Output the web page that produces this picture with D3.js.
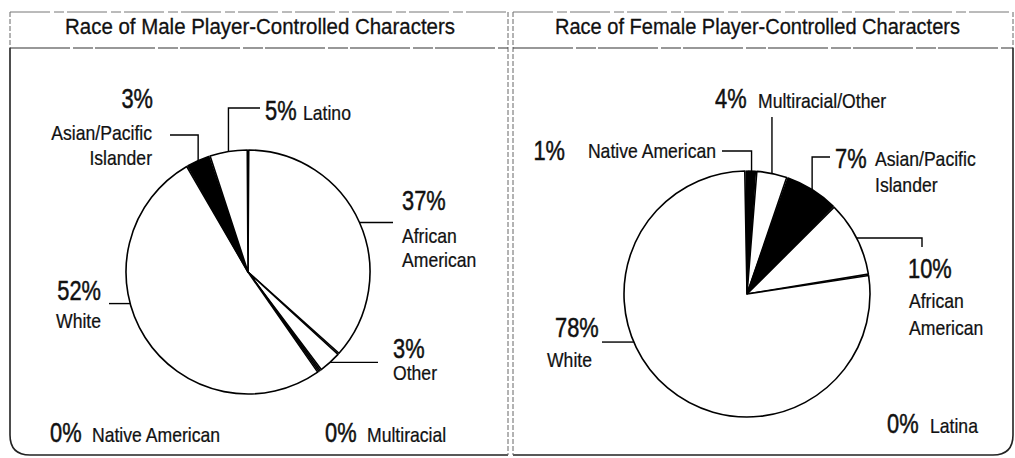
<!DOCTYPE html>
<html lang="en">
<head>
    <meta charset="utf-8">
    <script src="https://d3js.org/d3.v7.min.js"></script>
    <style type="text/css">
        body {
            margin: 0;
            background: #fff;
            overflow: hidden;
        }
        text {
            font-family: "Liberation Sans", Arial, sans-serif;
            fill: #111;
        }
        .title { font-size: 22px; stroke: #111; stroke-width: 0.3; }
        .pct { font-size: 28px; stroke: #111; stroke-width: 0.5; }
        .lab { font-size: 20px; stroke: #111; stroke-width: 0.25; }
    </style>
</head>
<body>
<svg id="chart"></svg>
<script type="text/javascript">
    var width = 1015;
    var height = 458;

    // male player-controlled characters, clockwise from 12 o'clock
    var maleRaces = ["African American", "Other", "Native American", "Multiracial", "White", "Asian/Pacific Islander", "Latino"];
    var malePct = [37, 3, 0, 0, 52, 3, 5];

    // female player-controlled characters, clockwise from 12 o'clock
    var femaleRaces = ["Native American", "Multiracial/Other", "Asian/Pacific Islander", "African American", "White", "Latina"];
    var femalePct = [1, 4, 7, 10, 78, 0];

    var darkRaces = ["Asian/Pacific Islander", "Native American"];

    var svg = d3.select("#chart")
        .attr("width", width)
        .attr("height", height);

    // condensed look: squeeze glyphs horizontally
    function addText(cls, x, y, str, anchor, sx) {
        return svg.append("text").attr("class", cls)
            .attr("transform", "translate(" + x + "," + y + ") scale(" + sx + ",1)")
            .attr("text-anchor", anchor || "start")
            .text(str);
    }

    // panel frames
    var frame = svg.append("g").attr("fill", "none");
    frame.append("path")
        .attr("d", "M10,48 V435 Q10,455 30,455 H508")
        .attr("stroke", "#222").attr("stroke-width", 1.6);
    frame.append("path")
        .attr("d", "M1013,48 V435 Q1013,455 993,455 H513")
        .attr("stroke", "#222").attr("stroke-width", 1.6);
    frame.append("path")
        .attr("d", "M10,12 V48 M508,12 V455 M513,12 V455 M1013,12 V48")
        .attr("stroke", "#666").attr("stroke-width", 1).attr("stroke-dasharray", "5,2");
    frame.append("path")
        .attr("d", "M10,12 H508 M513,12 H1013")
        .attr("stroke", "#777").attr("stroke-width", 1).attr("stroke-dasharray", "40,4,10,3");
    frame.append("path")
        .attr("d", "M10,48 H508 M513,48 H1013")
        .attr("stroke", "#333").attr("stroke-width", 1.2).attr("stroke-dasharray", "60,3,20,2");

    svg.append("text").attr("class", "title")
        .attr("x", 65).attr("y", 34)
        .attr("textLength", 390).attr("lengthAdjust", "spacingAndGlyphs")
        .text("Race of Male Player-Controlled Characters");
    svg.append("text").attr("class", "title")
        .attr("x", 555).attr("y", 34)
        .attr("textLength", 405).attr("lengthAdjust", "spacingAndGlyphs")
        .text("Race of Female Player-Controlled Characters");

    var pie = d3.pie().sort(null).value(function(d) { return d.value; }).padAngle(0.012);

    function drawPie(races, pcts, cx, cy, r, labels) {
        var data = races.map(function(name, i) { return { name: name, value: pcts[i] }; });
        var arcs = pie(data);
        var arc = d3.arc().innerRadius(0).outerRadius(r);
        var g = svg.append("g").attr("transform", "translate(" + cx + "," + cy + ")");

        g.selectAll("path")
            .data(arcs)
            .join("path")
            .attr("d", arc)
            .attr("fill", function(d) { return darkRaces.indexOf(d.data.name) >= 0 ? "#000" : "#fff"; })
            .attr("stroke", "#000")
            .attr("stroke-width", 1.6)
            .attr("stroke-linejoin", "round");

        function edgePoint(a) {
            return [cx + r * Math.sin(a), cy - r * Math.cos(a)];
        }

        labels.forEach(function(lb) {
            var slice = arcs.filter(function(d) { return d.data.name === lb.race; })[0];
            var ang = lb.angle !== undefined ? lb.angle * Math.PI / 180 : (slice.startAngle + slice.endAngle) / 2;
            var p = edgePoint(ang);
            var pts;
            if (lb.leader === "h") pts = [[lb.x0, p[1]], p];
            else if (lb.leader === "v") pts = [[p[0], lb.y0], p];
            else if (lb.leader === "hv") pts = [[lb.x0, lb.y0], [p[0], lb.y0], p];
            else pts = [[lb.x0, lb.y0], [lb.x0, p[1]], p];
            svg.append("path")
                .attr("d", d3.line()(pts))
                .attr("fill", "none")
                .attr("stroke", "#000")
                .attr("stroke-width", 1.4);

            var anchor = lb.anchor || "start";
            addText("pct", lb.px, lb.py, slice.data.value + "%", anchor, 0.78);
            lb.lines.forEach(function(t, i) {
                addText("lab", lb.lx, lb.ly[i], t, anchor, 0.88);
            });
        });
    }

    drawPie(maleRaces, malePct, 248, 272, 122, [
        { race: "Latino", leader: "hv", x0: 260, y0: 108, px: 265, py: 120, lx: 303, ly: [120], lines: ["Latino"] },
        { race: "Asian/Pacific Islander", leader: "hv", x0: 170, y0: 135, anchor: "end", px: 153, py: 108, lx: 152, ly: [140, 165], lines: ["Asian/Pacific", "Islander"] },
        { race: "African American", leader: "h", x0: 393, px: 402, py: 210, lx: 402, ly: [243, 267], lines: ["African", "American"] },
        { race: "Other", leader: "h", x0: 378, px: 393, py: 358, lx: 393, ly: [380], lines: ["Other"] },
        { race: "White", leader: "h", x0: 109, angle: 255, anchor: "end", px: 101, py: 300, lx: 101, ly: [328], lines: ["White"] }
    ]);

    drawPie(femaleRaces, femalePct, 747, 294, 123, [
        { race: "Native American", leader: "hv", x0: 722, y0: 151, anchor: "end", px: 565, py: 160, lx: 716, ly: [158], lines: ["Native American"] },
        { race: "Multiracial/Other", leader: "v", y0: 117, px: 715, py: 108, lx: 758, ly: [108], lines: ["Multiracial/Other"] },
        { race: "Asian/Pacific Islander", leader: "hv", x0: 830, y0: 157, px: 835, py: 168, lx: 875, ly: [166, 192], lines: ["Asian/Pacific", "Islander"] },
        { race: "African American", leader: "vh", x0: 922, y0: 247, px: 908, py: 278, lx: 909, ly: [308, 335], lines: ["African", "American"] },
        { race: "White", leader: "h", x0: 602, angle: 247, px: 555, py: 337, lx: 547, ly: [367], lines: ["White"] }
    ]);

    // zero-share groups listed under the pies
    var zeroNotes = [
        { v: malePct[2], name: maleRaces[2], px: 50, lx: 92, y: 442 },
        { v: malePct[3], name: maleRaces[3], px: 325, lx: 367, y: 442 },
        { v: femalePct[5], name: femaleRaces[5], px: 887, lx: 930, y: 433 }
    ];
    zeroNotes.forEach(function(n) {
        addText("pct", n.px, n.y, n.v + "%", "start", 0.78);
        addText("lab", n.lx, n.y, n.name, "start", 0.88);
    });
</script>
</body>
</html>
